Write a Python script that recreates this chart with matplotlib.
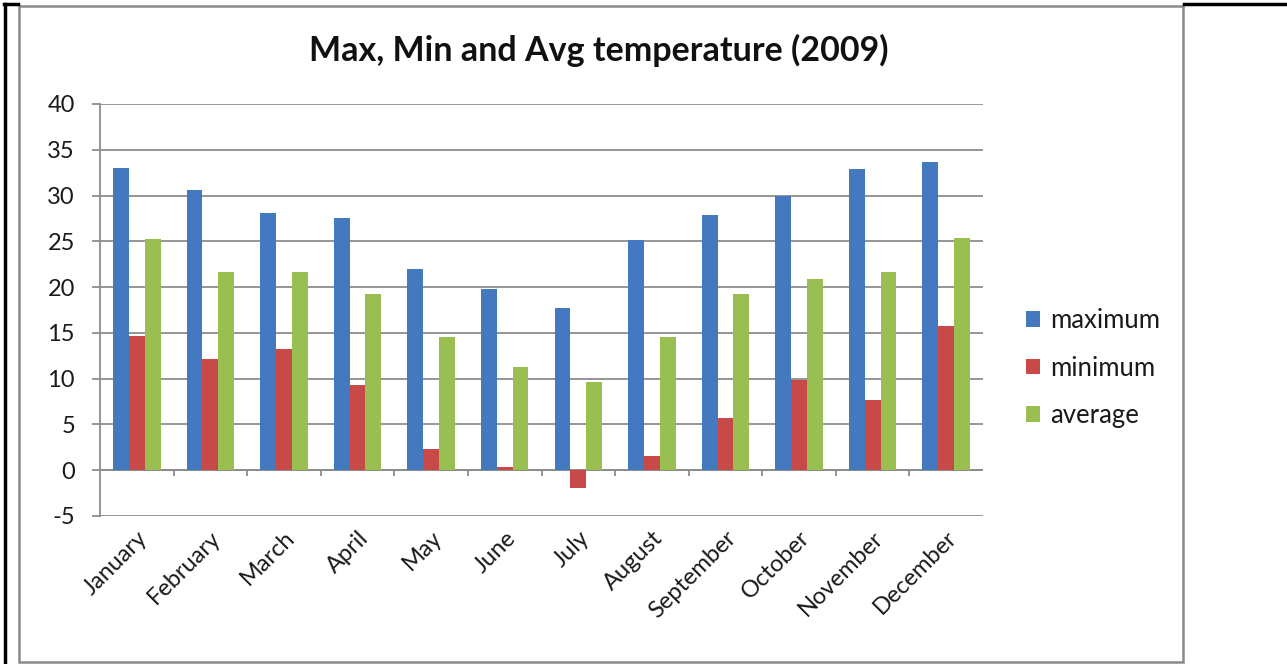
import matplotlib
matplotlib.use('Agg')
from matplotlib import pyplot as plt
import matplotlib.patches as mpatches
import matplotlib.lines as mlines
import numpy as np

# data
months = ['January', 'February', 'March', 'April', 'May', 'June',
          'July', 'August', 'September', 'October', 'November', 'December']
maximum = [33.0, 30.6, 28.1, 27.5, 22.0, 19.8, 17.7, 25.2, 27.9, 29.9, 32.9, 33.7]
minimum = [14.7, 12.1, 13.2, 9.3, 2.3, 0.3, -1.9, 1.5, 5.7, 9.8, 7.7, 15.8]
average = [25.3, 21.6, 21.7, 19.2, 14.6, 11.3, 9.6, 14.5, 19.3, 20.9, 21.7, 25.4]
series_names = ['maximum', 'minimum', 'average']
colors = ['#4479c0', '#c84a48', '#98bf4f']

plt.rcParams['font.family'] = ['Lato', 'DejaVu Sans']
plt.rcParams['axes.unicode_minus'] = False
W, H = 1287, 664
fig = plt.figure(figsize=(W / 100, H / 100), dpi=100)

# outer table lines + chart frame
fig.add_artist(mlines.Line2D([4.5 / W, 4.5 / W], [0, 1 - 4 / H], color='black', lw=2.5))
fig.add_artist(mlines.Line2D([4 / W, 18 / W], [1 - 4 / H, 1 - 4 / H], color='black', lw=2.5))
fig.add_artist(mlines.Line2D([1184 / W, 1], [1 - 4 / H, 1 - 4 / H], color='black', lw=2.5))
fig.add_artist(mpatches.Rectangle((19 / W, 2 / H), (1183 - 19) / W, (660 - 4) / H,
                                  fill=False, ec='#8a8a8a', lw=1.8, transform=fig.transFigure))

ax = fig.add_axes([100 / W, (H - 516) / H, (983 - 100) / W, (516 - 104) / H])

x = np.arange(len(months))
bw = 0.215
for i, (vals, name) in enumerate(zip([maximum, minimum, average], series_names)):
    ax.bar(x + (i - 1) * bw, vals, width=bw, color=colors[i], label=name, zorder=3)

ax.set_xlim(-0.5, len(months) - 0.5)
ax.set_ylim(-5, 40)
ax.set_yticks(np.arange(-5, 41, 5))
ax.yaxis.grid(True, color='#8c8c8c', lw=1.3, zorder=0)
ax.set_axisbelow(True)
for s in ['top', 'right', 'bottom']:
    ax.spines[s].set_visible(False)
ax.spines['left'].set_color('#8c8c8c')
ax.spines['left'].set_linewidth(1.3)

# category axis at zero with tick marks between categories
ax.axhline(0, color='#8c8c8c', lw=1.3, zorder=2)
ax.vlines(np.arange(1, len(months)) - 0.5, -0.65, 0, color='#8c8c8c', lw=1.3, zorder=2)

ax.set_xticks(x)
ax.set_xticklabels(months, rotation=45, ha='right', rotation_mode='anchor')
ax.tick_params(axis='x', length=0, pad=8, labelsize=17, labelcolor='#1a1a1a')
ax.tick_params(axis='y', length=6, width=1.3, color='#8c8c8c', pad=12,
               labelsize=17, labelcolor='#1a1a1a')

fig.text(599 / W, 1 - 50 / H, 'Max, Min and Avg temperature (2009)', ha='center', va='center',
         fontsize=24.5, fontweight='bold', color='#111111')

fig.legend(loc='center left', bbox_to_anchor=(1013 / W, 1 - 368 / H), frameon=False,
           fontsize=18.5, handlelength=0.55, handleheight=0.55, handletextpad=0.4,
           labelspacing=0.88, borderpad=0, labelcolor='#1a1a1a')

fig.savefig('out.png', dpi=100)
